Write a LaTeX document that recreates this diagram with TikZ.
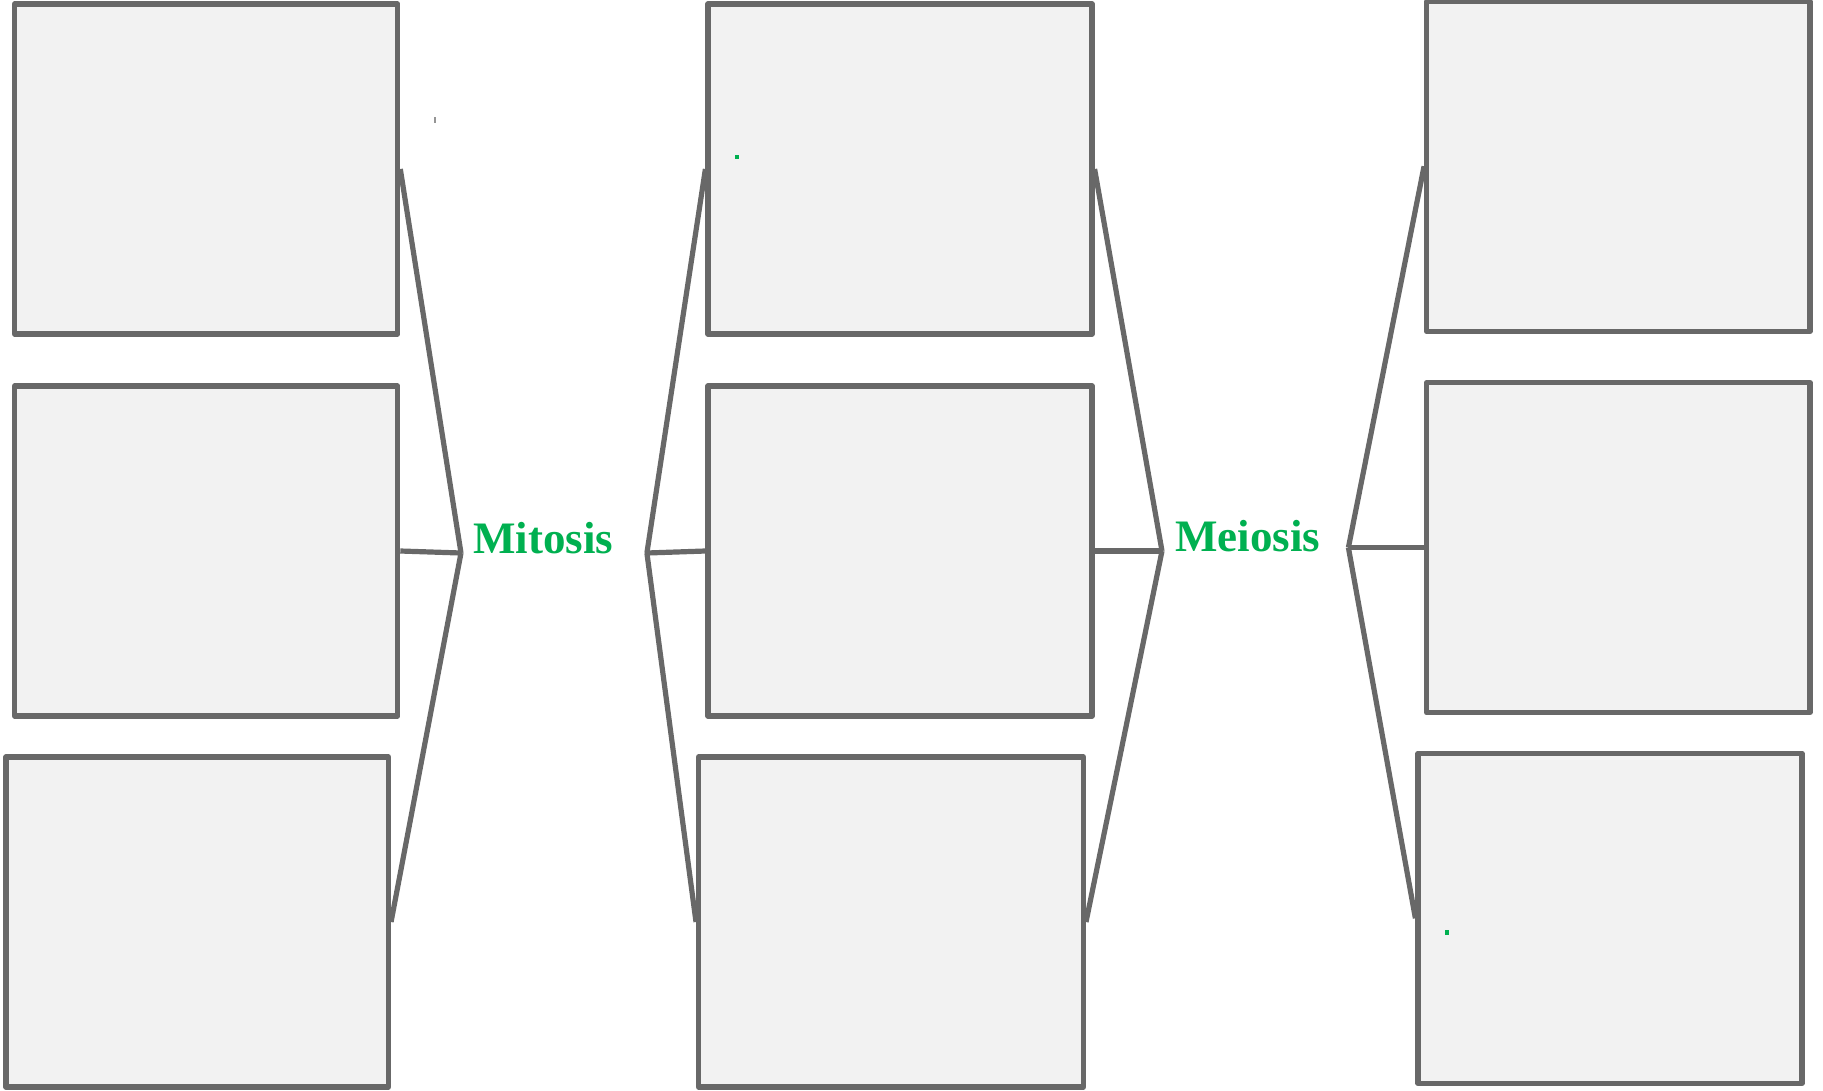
\documentclass[tikz,border=0pt]{standalone}
\usepackage{fontspec}
\setmainfont{Liberation Serif}
\definecolor{linegray}{HTML}{686868}
\definecolor{boxfill}{HTML}{F2F2F2}
\definecolor{labgreen}{HTML}{00B050}
\begin{document}
\begin{tikzpicture}[x=1pt,y=-1pt,
  cell/.style={draw=linegray, fill=boxfill, line width=5.2pt, line join=round, inner sep=0pt, minimum height=330pt},
  link/.style={draw=linegray, line width=5.2pt},
  word/.style={text=labgreen, font=\fontsize{45}{50}\selectfont\bfseries, inner ysep=0pt, align=left, anchor=base west},
  speck/.style={fill=labgreen, draw=none}]
\useasboundingbox (0,0) rectangle (1823,1090);
% boxes
\node[cell, minimum width=383pt] (L1) at (206.2,169) {};
\node[cell, minimum width=383pt] (L2) at (206.2,551) {};
\node[cell, minimum width=382.5pt] (L3) at (197.2,922) {};
\node[cell, minimum width=384pt] (M1) at (900,169) {};
\node[cell, minimum width=384pt] (M2) at (900,551) {};
\node[cell, minimum width=384.8pt] (M3) at (891,922) {};
\node[cell, minimum width=383.3pt] (R1) at (1618.3,166.3) {};
\node[cell, minimum width=383.3pt] (R2) at (1618.3,547.6) {};
\node[cell, minimum width=384pt] (R3) at (1610,918.3) {};
% labels
\node[word, text width=161.5pt, inner xsep=12pt] (mit) at (461,553) {Mitosis};
\node[word, text width=160pt, inner xsep=13pt] (mei) at (1162,551) {Meiosis};
\coordinate (meiE) at (mei.base east |- R2.west);
% connectors
\draw[link] (L1.east) -- (mit.base west);
\draw[link] (L2.east) -- (mit.base west);
\draw[link] (L3.east) -- (mit.base west);
\draw[link] (mit.base east) -- (M1.west);
\draw[link] (mit.base east) -- (M2.west);
\draw[link] (mit.base east) -- (M3.west);
\draw[link] (M1.east) -- (mei.base west);
\draw[link] (M2.east) -- (mei.base west);
\draw[link] (M3.east) -- (mei.base west);
\draw[link] (meiE) -- (R1.west);
\draw[link] (meiE) -- (R2.west);
\draw[link] (meiE) -- (R3.west);
% stray marks
\fill[linegray!70] (433.8,116.5) rectangle (435.6,122.5);
\fill[labgreen] (734.8,154.8) rectangle (738.8,158.8);
\fill[labgreen] (1444.5,930) rectangle (1449,934.5);
\end{tikzpicture}
\end{document}
